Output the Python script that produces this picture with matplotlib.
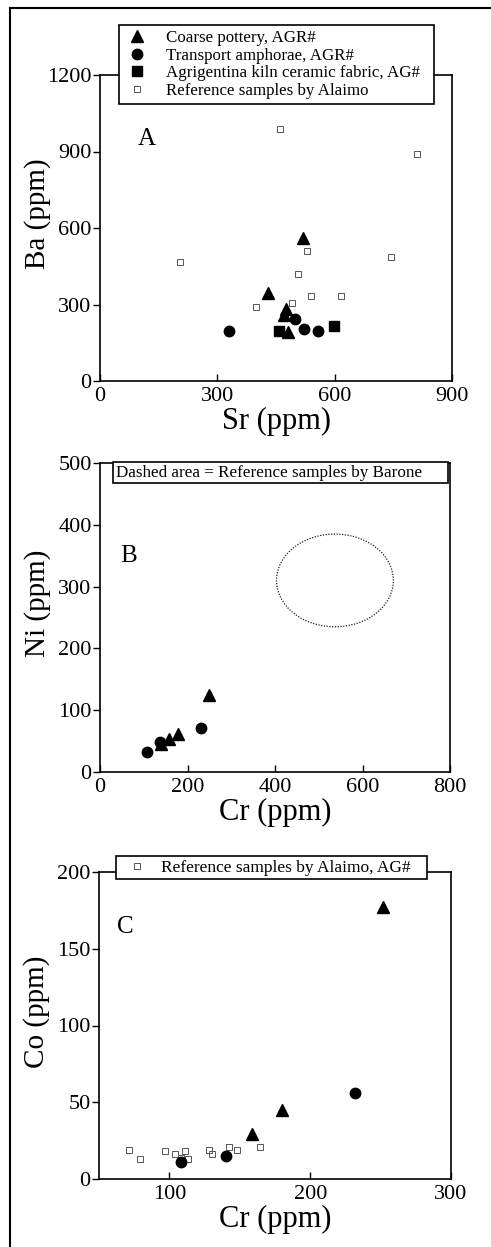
import numpy as np
import matplotlib
matplotlib.use('Agg')
import matplotlib.pyplot as plt
from matplotlib.patches import Ellipse, Rectangle
from matplotlib.lines import Line2D

plt.rcParams['font.family'] = ['Liberation Serif', 'DejaVu Serif']

# Panel A: Sr vs Ba
a_tri_sr = [520, 430, 475, 470, 480]
a_tri_ba = [560, 345, 282, 258, 192]
a_cir_sr = [330, 498, 522, 557]
a_cir_ba = [198, 243, 202, 198]
a_sq_sr = [457, 599]
a_sq_ba = [197, 214]
a_ref_sr = [460, 810, 205, 530, 745, 505, 540, 615, 492, 400]
a_ref_ba = [990, 890, 465, 510, 485, 420, 335, 335, 307, 290]

# Panel B: Cr vs Ni
b_tri_cr = [140, 158, 178, 250]
b_tri_ni = [45, 53, 61, 125]
b_cir_cr = [107, 137, 230]
b_cir_ni = [32, 48, 71]
barone_center = (537, 310)
barone_size = (267, 150)

# Panel C: Cr vs Co
c_tri_cr = [159, 180, 252]
c_tri_co = [29, 45, 177]
c_cir_cr = [108, 140, 232]
c_cir_co = [11, 15, 56]
c_ref_cr = [71, 79, 97, 104, 108, 111, 113, 128, 130, 142, 148, 164]
c_ref_co = [19, 13, 18, 16, 14, 18, 13, 19, 16, 21, 19, 21]

labels_a = ['Coarse pottery, AGR#', 'Transport amphorae, AGR#',
            'Agrigentina kiln ceramic fabric, AG#', 'Reference samples by Alaimo']

W, H = 491, 1247
fig = plt.figure(figsize=(W / 100, H / 100), dpi=100)

def box(l, r, t, b):
    return [l / W, 1 - b / H, (r - l) / W, (b - t) / H]

tri = dict(marker='^', color='black', markersize=8, linestyle='none')
cir = dict(marker='o', color='black', markersize=7.5, linestyle='none')
sq = dict(marker='s', color='black', markersize=6.5, linestyle='none')
ref = dict(marker='s', markerfacecolor='none', markeredgecolor='#555555',
           markeredgewidth=0.7, markersize=5, linestyle='none')

def style(ax):
    for s in ax.spines.values():
        s.set_linewidth(1.2)
    ax.tick_params(axis='y', direction='out', length=5, width=1, labelsize=16, pad=1)
    ax.tick_params(axis='x', direction='in', length=5, width=1, labelsize=16, pad=4)
    ax.yaxis.set_label_coords(-0.14, 0.546)

# ---- A
ax1 = fig.add_axes(box(100, 452, 75, 381))
ax1.plot(a_tri_sr, a_tri_ba, **tri, label=labels_a[0])
ax1.plot(a_cir_sr, a_cir_ba, **cir, label=labels_a[1])
ax1.plot(a_sq_sr, a_sq_ba, **sq, label=labels_a[2])
ax1.plot(a_ref_sr, a_ref_ba, **ref, label=labels_a[3])
ax1.set_xlim(0, 900)
ax1.set_ylim(0, 1200)
ax1.set_xticks([0, 300, 600, 900])
ax1.set_yticks([0, 300, 600, 900, 1200])
ax1.set_xlabel('Sr (ppm)', fontsize=22, labelpad=1)
ax1.set_ylabel('Ba (ppm)', fontsize=21)
ax1.text(0.133, 0.79, 'A', transform=ax1.transAxes, fontsize=18, ha='center', va='center')
style(ax1)
leg = ax1.legend(loc='lower left', bbox_to_anchor=(0.054, 0.905, 0.895, 0.278),
                 mode='expand', borderaxespad=0, fontsize=12.2, fancybox=False,
                 edgecolor='black', framealpha=1, labelspacing=0.1,
                 handletextpad=1.0, borderpad=0.3, handlelength=1.5)
leg.get_frame().set_linewidth(1.2)

# ---- B
ax2 = fig.add_axes(box(100, 450, 463, 772))
ax2.plot(b_tri_cr, b_tri_ni, **tri)
ax2.plot(b_cir_cr, b_cir_ni, **cir)
ax2.add_patch(Ellipse(barone_center, barone_size[0], barone_size[1], fill=False,
                      linestyle=(0, (1, 1.2)), linewidth=0.9, edgecolor='#222222'))
ax2.set_xlim(0, 800)
ax2.set_ylim(0, 500)
ax2.set_xticks([0, 200, 400, 600, 800])
ax2.set_yticks([0, 100, 200, 300, 400, 500])
ax2.set_xlabel('Cr (ppm)', fontsize=22, labelpad=1)
ax2.set_ylabel('Ni (ppm)', fontsize=21)
ax2.text(0.083, 0.70, 'B', transform=ax2.transAxes, fontsize=18, ha='center', va='center')
style(ax2)
ax2.add_patch(Rectangle((0.037, 0.935), 0.957, 0.068, transform=ax2.transAxes,
                        facecolor='white', edgecolor='black', linewidth=1.2,
                        clip_on=False, zorder=5))
ax2.text(0.045, 0.969, 'Dashed area = Reference samples by Barone', transform=ax2.transAxes,
         fontsize=12.3, ha='left', va='center', zorder=6)

# ---- C
ax3 = fig.add_axes(box(99, 451, 872, 1179))
ax3.plot(c_ref_cr, c_ref_co, **ref, label='Reference samples by Alaimo, AG#')
ax3.plot(c_tri_cr, c_tri_co, **tri)
ax3.plot(c_cir_cr, c_cir_co, **cir)
ax3.set_xlim(50, 300)
ax3.set_ylim(0, 200)
ax3.set_xticks([100, 200, 300])
ax3.set_yticks([0, 50, 100, 150, 200])
ax3.set_xlabel('Cr (ppm)', fontsize=22, labelpad=1)
ax3.set_ylabel('Co (ppm)', fontsize=21)
ax3.text(0.074, 0.82, 'C', transform=ax3.transAxes, fontsize=18, ha='center', va='center')
style(ax3)
leg3 = ax3.legend(loc='lower left', bbox_to_anchor=(0.048, 0.977, 0.884, 0.072),
                  mode='expand', borderaxespad=0, fontsize=12.5, fancybox=False,
                  edgecolor='black', framealpha=1, handletextpad=0.4,
                  borderpad=0.2, handlelength=2.0)
leg3.get_frame().set_linewidth(1.2)

# outer page frame
fig.add_artist(Line2D([10 / W, 10 / W], [0, 1 - 8 / H], color='black', linewidth=1.5))
fig.add_artist(Line2D([10 / W, 1], [1 - 8 / H, 1 - 8 / H], color='black', linewidth=1.5))

fig.savefig('out.png', dpi=100)
